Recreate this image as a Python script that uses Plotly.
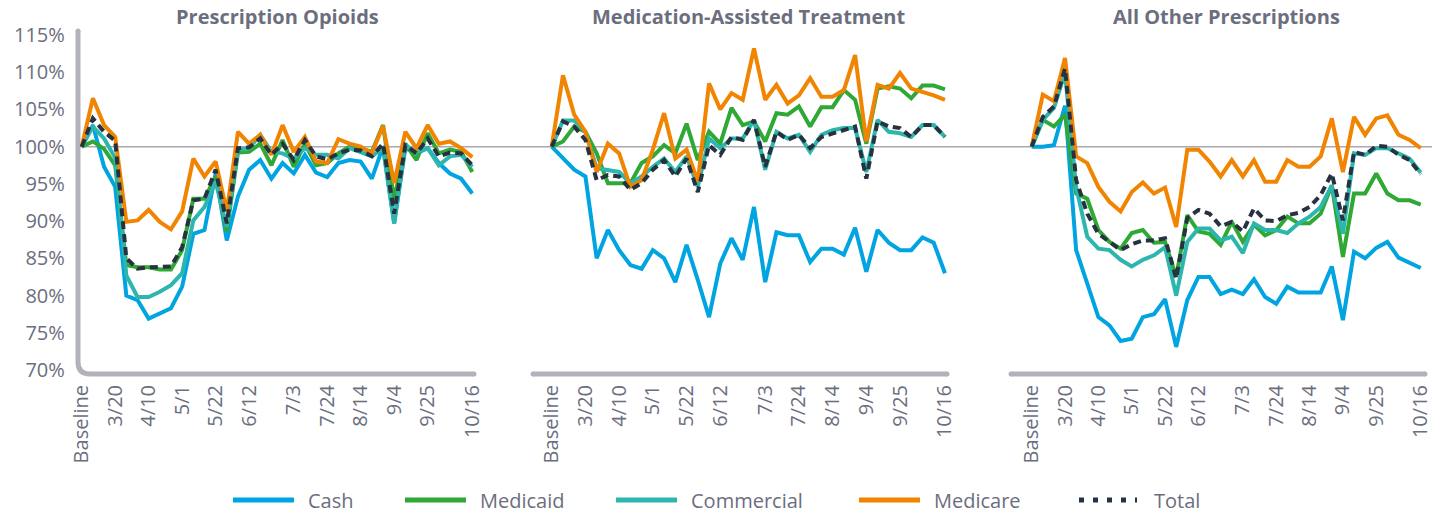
import plotly.graph_objects as go

W, H = 1442, 514

# ---------------- data ----------------
weeks = list(range(36))  # Baseline + 35 weekly observations
tick_pos = [0, 3, 6, 9, 12, 15, 19, 22, 25, 28, 31, 35]
tick_labels = ["Baseline", "3/20", "4/10", "5/1", "5/22", "6/12", "7/3", "7/24", "8/14", "9/4", "9/25", "10/16"]

panel_titles = ["Prescription Opioids", "Medication-Assisted Treatment", "All Other Prescriptions"]
series_names = ["Cash", "Medicaid", "Commercial", "Medicare", "Total"]

# Prescription Opioids
op_cash = [100, 102.9, 97.3, 94.6, 80.0, 79.4, 76.9, 77.6, 78.3, 81.2, 88.3, 88.8, 96.4, 87.4, 93.3, 96.9, 98.2, 95.7,
           97.8, 96.4, 98.9, 96.5, 95.9, 97.8, 98.2, 98.0, 95.7, 100.0, 89.7, 99.8, 99.1, 99.8, 97.8, 96.4, 95.7, 93.7]
op_medicaid = [100, 100.7, 99.7, 97.5, 84.1, 83.8, 83.8, 83.5, 83.5, 86.1, 93.0, 93.0, 96.0, 88.6, 99.2, 99.3, 100.4, 97.5,
               100.9, 97.3, 100.4, 97.5, 97.8, 99.1, 100.0, 99.8, 99.3, 102.9, 92.8, 100.4, 98.2, 101.8, 99.1, 99.6, 99.3, 96.6]
op_commercial = [100, 102.7, 101.1, 98.5, 82.7, 79.8, 79.8, 80.5, 81.4, 83.0, 90.1, 91.9, 95.3, 89.2, 99.6, 99.8, 101.6, 99.3,
                 99.1, 98.4, 99.8, 98.9, 98.9, 98.4, 99.8, 99.3, 98.7, 99.8, 89.7, 100.2, 99.3, 99.8, 97.5, 98.7, 98.9, 97.3]
op_medicare = [100, 106.5, 102.9, 101.3, 89.9, 90.1, 91.5, 89.9, 88.9, 91.3, 98.4, 96.0, 98.0, 91.3, 102.0, 100.4, 101.6, 98.9,
               102.9, 99.3, 101.3, 98.0, 97.8, 101.0, 100.4, 100.0, 99.1, 102.8, 95.1, 102.0, 99.8, 102.9, 100.4, 100.7, 99.8, 98.6]
op_total = [100, 103.8, 102.0, 100.8, 85.0, 83.6, 83.8, 83.8, 83.9, 86.5, 92.8, 93.0, 96.9, 89.7, 99.8, 99.9, 101.1, 98.9,
            100.4, 98.2, 100.9, 98.7, 98.3, 99.1, 99.6, 99.5, 98.7, 100.4, 91.0, 100.2, 99.1, 101.1, 98.7, 99.2, 99.1, 97.5]

# Medication-Assisted Treatment
mat_cash = [100, 98.4, 96.9, 96.0, 85.0, 88.8, 86.1, 84.1, 83.6, 86.1, 85.0, 81.8, 86.8, 82.1, 77.1, 84.3, 87.7, 84.8,
            91.9, 81.8, 88.5, 88.1, 88.1, 84.5, 86.3, 86.3, 85.5, 89.1, 83.2, 88.8, 87.1, 86.1, 86.1, 87.8, 87.1, 83.0]
mat_medicaid = [100, 100.7, 102.7, 102.0, 99.1, 95.1, 95.1, 95.1, 97.8, 98.7, 100.2, 99.1, 103.1, 98.2, 102.0, 100.4, 105.2, 102.9,
                103.4, 100.7, 104.5, 104.3, 105.4, 102.7, 105.3, 105.3, 107.6, 106.3, 100.4, 107.8, 108.1, 107.8, 106.5, 108.2, 108.2, 107.7]
mat_commercial = [100, 103.5, 103.5, 102.0, 97.1, 96.9, 96.6, 95.1, 96.0, 97.3, 98.4, 96.6, 98.7, 94.6, 101.1, 99.8, 101.1, 101.1,
                  103.6, 96.9, 102.0, 101.1, 101.6, 99.3, 101.6, 102.2, 102.5, 102.5, 96.6, 103.6, 102.0, 101.8, 101.3, 102.9, 102.9, 101.3]
mat_medicare = [100, 109.6, 104.3, 102.0, 96.6, 100.4, 99.1, 94.6, 95.5, 99.6, 104.5, 98.4, 99.6, 95.3, 108.5, 105.0, 107.2, 106.3,
                113.2, 106.3, 108.3, 105.8, 106.9, 109.2, 106.7, 106.7, 107.6, 112.3, 100.7, 108.3, 107.8, 109.9, 107.8, 107.4, 106.9, 106.3]
mat_total = [100, 103.4, 102.7, 100.9, 95.5, 96.2, 96.0, 94.2, 95.1, 96.9, 98.2, 96.0, 98.4, 93.9, 100.2, 98.9, 101.3, 100.9,
             103.6, 97.3, 102.0, 100.9, 101.6, 99.8, 101.3, 101.8, 102.2, 102.7, 95.7, 103.4, 102.7, 102.5, 101.3, 102.9, 102.9, 101.3]

# All Other Prescriptions
oth_cash = [100, 100.0, 100.2, 105.5, 86.1, 81.6, 77.1, 76.0, 73.9, 74.2, 77.1, 77.5, 79.5, 73.1, 79.4, 82.5, 82.5, 80.2,
            80.8, 80.2, 82.2, 79.8, 78.9, 81.2, 80.4, 80.4, 80.4, 83.9, 76.7, 85.9, 85.0, 86.4, 87.2, 85.1, 84.4, 83.7]
oth_medicaid = [100, 103.6, 102.7, 104.3, 93.7, 93.0, 88.8, 87.2, 86.3, 88.4, 88.8, 87.1, 87.2, 82.5, 90.8, 88.6, 88.3, 86.8,
                89.9, 87.2, 89.5, 88.1, 88.8, 90.6, 89.7, 89.7, 91.0, 94.8, 85.2, 93.7, 93.7, 96.4, 93.7, 92.8, 92.8, 92.2]
oth_commercial = [100, 103.6, 105.2, 109.9, 94.6, 87.9, 86.3, 86.1, 84.8, 83.9, 84.8, 85.4, 86.5, 80.0, 87.2, 89.0, 89.0, 87.4,
                  87.9, 85.7, 89.7, 88.8, 88.8, 88.4, 89.7, 90.6, 91.9, 94.8, 88.3, 99.1, 98.9, 99.8, 99.8, 99.1, 98.4, 96.5]
oth_medicare = [100, 107.0, 106.1, 111.9, 98.7, 97.8, 94.6, 92.6, 91.3, 93.9, 95.2, 93.7, 94.5, 89.2, 99.6, 99.6, 98.0, 96.0,
                98.2, 96.0, 98.2, 95.3, 95.3, 98.2, 97.3, 97.3, 98.7, 103.8, 96.6, 104.0, 101.6, 103.8, 104.2, 101.6, 100.9, 99.8]
oth_total = [100, 104.0, 105.4, 110.5, 95.5, 91.0, 88.3, 87.2, 86.1, 86.9, 87.4, 87.4, 87.7, 82.3, 90.4, 91.5, 91.0, 89.3,
             89.9, 88.6, 91.7, 90.1, 90.0, 90.8, 91.1, 91.9, 93.5, 96.4, 90.1, 99.3, 98.9, 100.1, 100.0, 98.9, 98.2, 96.3]

panels = [
    [op_cash, op_medicaid, op_commercial, op_medicare, op_total],
    [mat_cash, mat_medicaid, mat_commercial, mat_medicare, mat_total],
    [oth_cash, oth_medicaid, oth_commercial, oth_medicare, oth_total],
]

# ---------------- styles ----------------
colors = ["#00a4e1", "#2fa836", "#2db6ad", "#f18400", "#26323f"]
dashes = ["solid", "solid", "solid", "solid", "8px,5px"]
TXT = "#6b6e7e"
AXC = "#b2b2bc"
FONT = "Open Sans"


def px(x):
    return x / W


def py(y):
    return 1 - y / H


x_domains = [(77.8, 476.2), (547.8, 948.9), (1027.8, 1424.6)]
y_domain = [py(370), py(35)]

fig = go.Figure()
for p, series in enumerate(panels):
    xa = "x" if p == 0 else f"x{p + 1}"
    ya = "y" if p == 0 else f"y{p + 1}"
    for s, vals in enumerate(series):
        fig.add_trace(go.Scatter(
            x=weeks, y=vals, mode="lines", name=series_names[s],
            line=dict(color=colors[s], width=4, dash=dashes[s]),
            xaxis=xa, yaxis=ya, showlegend=False,
        ))

layout = dict(
    width=W, height=H,
    margin=dict(l=0, r=0, t=0, b=0, pad=0, autoexpand=False),
    paper_bgcolor="white", plot_bgcolor="white",
    font=dict(family=FONT, color=TXT, size=20),
    showlegend=False,
)
for p in range(3):
    xk = "xaxis" if p == 0 else f"xaxis{p + 1}"
    yk = "yaxis" if p == 0 else f"yaxis{p + 1}"
    layout[xk] = dict(
        domain=[px(x_domains[p][0]), px(x_domains[p][1])],
        range=[-0.35, 35.35], tickmode="array", tickvals=tick_pos, ticktext=tick_labels,
        tickangle=-90, showgrid=False, zeroline=False, showline=False, ticks="",
        tickfont=dict(size=20, color=TXT, family=FONT), ticklabelstandoff=10,
        anchor="y" if p == 0 else f"y{p + 1}", automargin=False,
    )
    layout[yk] = dict(
        domain=y_domain, range=[70, 115], dtick=5, tick0=70,
        showgrid=False, zeroline=False, showline=False, ticks="",
        showticklabels=(p == 0), ticksuffix="%",
        tickfont=dict(size=20, color=TXT, family=FONT), ticklabelstandoff=12,
        anchor="x" if p == 0 else f"x{p + 1}", automargin=False,
    )
fig.update_layout(**layout)

shapes = []
# 100% reference line
shapes.append(dict(type="line", xref="paper", yref="y", x0=px(78), x1=px(1432), y0=100, y1=100,
                   line=dict(color="#a8a8b0", width=1.5), layer="below"))
# axis bars
bar_y = 374
path1 = (f"M {px(78)},{py(31)} L {px(78)},{py(bar_y - 12)} "
         f"Q {px(78)},{py(bar_y)} {px(90)},{py(bar_y)} L {px(474)},{py(bar_y)}")
shapes.append(dict(type="path", xref="paper", yref="paper", path=path1,
                   line=dict(color=AXC, width=5), layer="below"))
for (a, b) in [(533, 947), (1011, 1425)]:
    shapes.append(dict(type="line", xref="paper", yref="paper", x0=px(a), x1=px(b), y0=py(bar_y), y1=py(bar_y),
                       line=dict(color=AXC, width=5), layer="below"))
# round caps
for (cx, cy) in [(78, 31), (474, bar_y), (533, bar_y), (947, bar_y), (1011, bar_y), (1425, bar_y)]:
    shapes.append(dict(type="circle", xref="paper", yref="paper",
                       x0=px(cx - 2.5), x1=px(cx + 2.5), y0=py(cy + 2.5), y1=py(cy - 2.5),
                       fillcolor=AXC, line=dict(width=0), layer="below"))

# legend (drawn manually)
legend_line_x = [233, 405, 616, 859, 1079]
legend_y = 500
annotations = []
for i, name in enumerate(series_names):
    x0 = legend_line_x[i]
    if i == 4:
        shapes.append(dict(type="line", xref="paper", yref="paper", x0=px(x0), x1=px(x0 + 58),
                           y0=py(legend_y), y1=py(legend_y),
                           line=dict(color=colors[i], width=5, dash="5px,9px")))
    else:
        shapes.append(dict(type="line", xref="paper", yref="paper", x0=px(x0), x1=px(x0 + 61),
                           y0=py(legend_y), y1=py(legend_y),
                           line=dict(color=colors[i], width=5)))
    annotations.append(dict(text=name, xref="paper", yref="paper", x=px(x0 + 73), y=py(legend_y),
                            xanchor="left", yanchor="middle", showarrow=False,
                            font=dict(size=20, color=TXT, family=FONT)))

# panel titles
centers = [277, 748, 1226]
for t, c in zip(panel_titles, centers):
    annotations.append(dict(text=f"<b>{t}</b>", xref="paper", yref="paper", x=px(c), y=py(17),
                            xanchor="center", yanchor="middle", showarrow=False,
                            font=dict(size=20, color=TXT, family=FONT)))

fig.update_layout(shapes=shapes, annotations=annotations)
fig.write_html(
    "out.html",
    config={"displayModeBar": False},
    post_script="document.body.style.margin='0';document.body.style.overflow='hidden';",
)
